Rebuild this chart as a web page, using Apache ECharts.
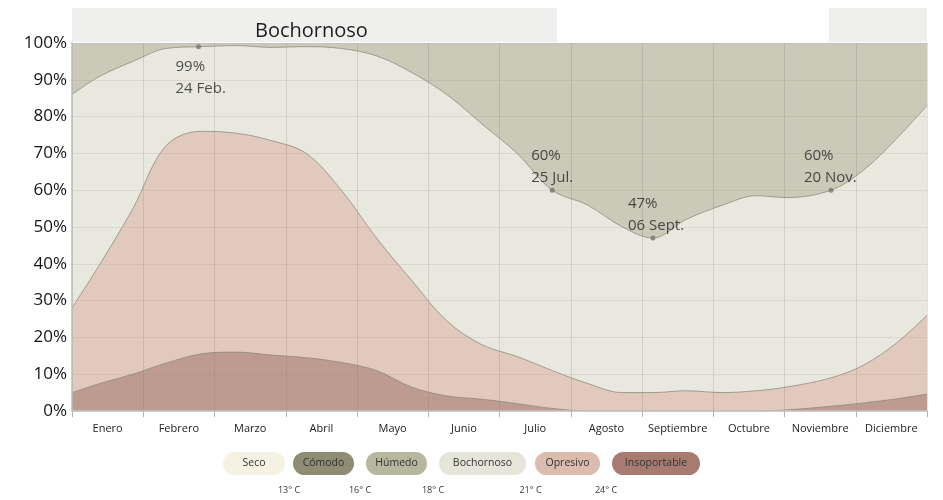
<!DOCTYPE html>
<html>
<head>
<meta charset="utf-8">
<script src="https://cdn.jsdelivr.net/npm/echarts@6.0.0/dist/echarts.min.js"></script>
<style>
  html, body { margin: 0; padding: 0; background: #fff; }
  #chart { width: 943px; height: 500px; }
</style>
</head>
<body>
<div id="chart"></div>
<script>
// datos (día del año -> % acumulado)
const months = ['Enero', 'Febrero', 'Marzo', 'Abril', 'Mayo', 'Junio', 'Julio', 'Agosto', 'Septiembre', 'Octubre', 'Noviembre', 'Diciembre'];
const days = [0, 12, 26, 40, 55, 70, 85, 100, 115, 130, 145, 160, 175, 190, 205, 220, 235, 248, 262, 278, 292, 305, 324, 338, 352, 365];
const bochornosoTop = [86, 91, 95, 98.5, 99, 99.3, 98.8, 99, 98.5, 96.5, 92, 86, 78, 70, 60, 56, 50, 47, 52, 56, 58.5, 58, 60, 65.5, 74, 83];
const opresivoTop = [28, 40, 55, 72, 76, 75.5, 73.5, 70, 60, 47, 35.5, 24.5, 18, 14.8, 11, 7.5, 5, 5, 5.5, 5, 5.5, 6.5, 9, 12.5, 18.5, 26];
const insoportableTop = [5, 7.5, 10, 13, 15.5, 16, 15.2, 14.5, 13.2, 11, 6.5, 4.1, 3.2, 2, 0.7, 0, 0, 0, 0, 0, 0, 0.3, 1.3, 2.2, 3.3, 4.6];

// anotaciones
const annotDays = [54, 205, 248, 324];
const annotValues = [99, 60, 47, 60];
const annotDates = ['24 Feb.', '25 Jul.', '06 Sept.', '20 Nov.'];

// franja superior "Bochornoso"
const bandRanges = [[0, 207], [323, 365]];
const bandLabels = ['Bochornoso', ''];

// leyenda
const legendNames = ['Seco', 'Cómodo', 'Húmedo', 'Bochornoso', 'Opresivo', 'Insoportable'];
const tempLabels = ['13° C', '16° C', '18° C', '21° C', '24° C'];

// estilos
const legendColors = ['#f5f2e3', '#8e8c72', '#b7b69e', '#e6e5d9', '#dbbcae', '#a87b71'];
const legendX = [223, 293, 366, 439, 535, 612];
const legendW = [62, 61, 61, 87, 65, 88];
const annotPos = ['bottom', 'top', 'top', 'top'];
const annotOffsets = [[-23, 7], [-21, 1], [-25, 1], [-27, 1]];
const FONT = '"Open Sans", "DejaVu Sans", sans-serif';

const chart = echarts.init(document.getElementById('chart'));

function areaSeries(name, vals, color) {
  return {
    type: 'line',
    name: name,
    xAxisIndex: 0,
    yAxisIndex: 0,
    data: days.map((d, i) => [d, vals[i]]),
    smooth: 0.35,
    symbol: 'none',
    silent: true,
    lineStyle: { color: 'rgba(140,135,125,0.75)', width: 1 },
    areaStyle: { color: color, opacity: 1 }
  };
}

// color de las líneas horizontales (la de 100% más marcada)
const hLineColors = [];
for (let i = 0; i < 10; i++) hLineColors.push('rgba(150,140,120,0.16)');
hLineColors.push('#c2c2bc');

const graphicEls = [];
legendNames.forEach((n, i) => {
  graphicEls.push({
    type: 'rect',
    shape: { x: legendX[i], y: 452, width: legendW[i], height: 23, r: 11.5 },
    style: { fill: legendColors[i] }
  });
  graphicEls.push({
    type: 'text',
    x: legendX[i] + legendW[i] / 2,
    y: 463.5,
    style: { text: n, align: 'center', verticalAlign: 'middle', fill: '#333', font: '10.5px ' + FONT }
  });
});
tempLabels.forEach((t, i) => {
  graphicEls.push({
    type: 'text',
    x: (legendX[i] + legendW[i] + legendX[i + 1]) / 2,
    y: 490,
    style: { text: t, align: 'center', verticalAlign: 'middle', fill: '#333', font: '9px ' + FONT }
  });
});

const option = {
  animation: false,
  textStyle: { fontFamily: FONT },
  grid: [
    { left: 72, right: 16, top: 43, bottom: 89, show: true, backgroundColor: '#cbc9b8', borderWidth: 0, outerBoundsMode: 'none' },
    { left: 72, right: 16, top: 8, height: 34, outerBoundsMode: 'none' }
  ],
  xAxis: [
    { type: 'value', gridIndex: 0, min: 0, max: 365, show: false },
    {
      type: 'category',
      gridIndex: 0,
      position: 'bottom',
      data: months,
      boundaryGap: true,
      z: 5,
      axisLine: { show: true, lineStyle: { color: '#c4c4c0', width: 1.5 } },
      axisTick: { show: true, length: 6, interval: 0, lineStyle: { color: '#b5b5b0' } },
      axisLabel: { color: '#222', fontSize: 11, fontFamily: FONT, margin: 12, interval: 0 },
      splitLine: { show: true, interval: 0, lineStyle: { color: 'rgba(120,110,100,0.2)', width: 1 } }
    },
    { type: 'value', gridIndex: 1, min: 0, max: 365, show: false }
  ],
  yAxis: [
    {
      type: 'value',
      gridIndex: 0,
      min: 0,
      max: 100,
      interval: 10,
      z: 5,
      axisLine: { show: true, lineStyle: { color: '#bdbdb8', width: 1.5 } },
      axisTick: { show: false },
      axisLabel: { formatter: '{value}%', color: '#151515', fontSize: 17, fontFamily: FONT, margin: 5 },
      splitLine: { show: true, lineStyle: { color: hLineColors, width: 1 } }
    },
    { type: 'value', gridIndex: 1, min: 0, max: 1, show: false }
  ],
  series: [
    areaSeries('Bochornoso', bochornosoTop, '#e9e8df'),
    areaSeries('Opresivo', opresivoTop, '#e1c9bd'),
    areaSeries('Insoportable', insoportableTop, '#bd9b91'),
    {
      type: 'scatter',
      xAxisIndex: 0,
      yAxisIndex: 0,
      symbolSize: 5,
      z: 10,
      silent: true,
      itemStyle: { color: '#77776f' },
      data: annotDays.map((d, i) => ({
        value: [d, annotValues[i]],
        label: { position: annotPos[i], offset: annotOffsets[i] }
      })),
      label: {
        show: true,
        align: 'left',
        distance: 0,
        color: '#262626',
        fontSize: 15,
        lineHeight: 22,
        fontFamily: FONT,
        formatter: p => annotValues[p.dataIndex] + '%\n' + annotDates[p.dataIndex]
      }
    },
    {
      type: 'custom',
      xAxisIndex: 2,
      yAxisIndex: 1,
      silent: true,
      data: bandRanges.map(b => [b[0], b[1]]),
      renderItem: (params, api) => {
        const p0 = api.coord([api.value(0), 0]);
        const p1 = api.coord([api.value(1), 1]);
        return {
          type: 'group',
          children: [
            {
              type: 'rect',
              shape: { x: p0[0], y: p1[1], width: p1[0] - p0[0], height: p0[1] - p1[1] },
              style: { fill: '#efefee' }
            },
            {
              type: 'text',
              x: (p0[0] + p1[0]) / 2 - 3,
              y: (p0[1] + p1[1]) / 2 + 6,
              style: { text: bandLabels[params.dataIndex], align: 'center', verticalAlign: 'middle', fill: '#1e1e1e', font: '20px ' + FONT }
            }
          ]
        };
      }
    }
  ],
  graphic: { elements: graphicEls }
};

chart.setOption(option);
</script>
</body>
</html>
